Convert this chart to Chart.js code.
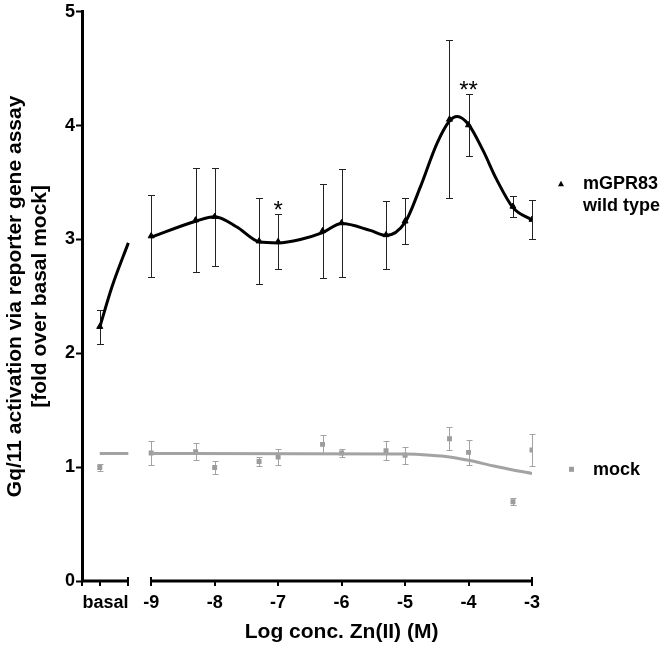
<!DOCTYPE html>
<html><head><meta charset="utf-8">
<script src="https://cdn.jsdelivr.net/npm/chart.js@4/dist/chart.umd.min.js"></script>
<style>html,body{margin:0;padding:0;background:#fff}canvas{display:block}</style>
</head><body>
<canvas id="c" width="668" height="646"></canvas>
<script>
// ---------- data ----------
const concLog   = [-9, -8.3, -8, -7.3, -7, -6.3, -6, -5.3, -5, -4.3, -4, -3.3, -3];
const wtMean    = [3.03, 3.17, 3.20, 2.985, 2.98, 3.075, 3.145, 3.04, 3.16, 4.055, 4.005, 3.29, 3.175];
const wtSem     = [0.36, 0.46, 0.43, 0.375, 0.24, 0.415, 0.475, 0.30, 0.20, 0.695, 0.275, 0.09, 0.175];
const mockMean  = [1.125, 1.135, 0.997, 1.05, 1.09, 1.20, 1.125, 1.145, 1.105, 1.25, 1.13, 0.696, 1.15];
const mockSem   = [0.105, 0.075, 0.058, 0.038, 0.07, 0.08, 0.035, 0.085, 0.075, 0.10, 0.11, 0.03, 0.14];
const basalPos  = -9.81;
const basalWtMean = 2.234, basalWtSem = 0.149;
const basalMockMean = 0.997, basalMockSem = 0.03;

const wtFitX  = [-9, -8.3, -8.0, -7.65, -7.3, -7.0, -6.65, -6.3, -6.0, -5.55, -5.3, -5.0, -4.76, -4.5, -4.3, -4.18, -4.0, -3.77, -3.56, -3.3, -3.0];
const wtFitY  = [3.02, 3.16, 3.20, 3.11, 2.98, 2.97, 3.00, 3.06, 3.14, 3.08, 3.035, 3.15, 3.46, 3.84, 4.04, 4.08, 4.01, 3.78, 3.53, 3.28, 3.17];
const wtBasalFitX = [-9.81, -9.62, -9.36];
const wtBasalFitY = [2.23, 2.58, 2.97];
const mockFitX = [-9, -5.0, -4.6, -4.3, -4.0, -3.6, -3.3, -3.0];
const mockFitY = [1.12, 1.115, 1.105, 1.09, 1.06, 1.01, 0.975, 0.945];
const mockBasalFitX = [-9.81, -9.36];
const mockBasalFitY = [1.12, 1.12];

const xTickValues = [-9.72, -9, -8, -7, -6, -5, -4, -3];
const xTickLabels = ['basal', '-9', '-8', '-7', '-6', '-5', '-4', '-3'];
const xMin = -10.09, xMax = -3;
const basalAxisEnd = -9.36;
const yMin = 0, yMax = 5, yStep = 1;
const sigLog   = [-7, -4];
const sigMarks = ['*', '**'];
const seriesNames = [['mGPR83', 'wild type'], ['mock']];
const yTitle = ['Gq/11 activation via reporter gene assay', '[fold over basal mock]'];
const xTitle = 'Log conc. Zn(II) (M)';

// ---------- style ----------
const FONT = "'Liberation Sans', Arial, sans-serif";
const BLACK = '#000000';
const GREY = '#a3a3a3';
const GREY_MARK = '#9c9c9c';

const pts = (xs, ys) => xs.map((v, i) => ({x: v, y: ys[i]}));

const groups = [
  {xs: [basalPos, ...concLog], m: [basalWtMean, ...wtMean], e: [basalWtSem, ...wtSem], color: '#222222', cap: 3.5},
  {xs: [basalPos, ...concLog], m: [basalMockMean, ...mockMean], e: [basalMockSem, ...mockSem], color: GREY, cap: 3}
];

const extras = {
  id: 'extras',
  beforeDatasetsDraw(chart) {
    const {ctx, scales: {x, y}} = chart;
    ctx.save();
    ctx.lineWidth = 1;
    groups.forEach(g => {
      ctx.strokeStyle = g.color;
      g.xs.forEach((xv, i) => {
        const px = Math.round(x.getPixelForValue(xv)) + 0.5;
        const top = Math.round(y.getPixelForValue(g.m[i] + g.e[i])) + 0.5;
        const bot = Math.round(y.getPixelForValue(g.m[i] - g.e[i])) + 0.5;
        ctx.beginPath();
        ctx.moveTo(px, top); ctx.lineTo(px, bot);
        ctx.moveTo(px - g.cap, top); ctx.lineTo(px + g.cap, top);
        ctx.moveTo(px - g.cap, bot); ctx.lineTo(px + g.cap, bot);
        ctx.stroke();
      });
    });
    ctx.restore();
  },
  afterDraw(chart) {
    const {ctx, chartArea: ca, scales: {x, y}} = chart;
    const b = ca.bottom;
    ctx.save();
    // broken x axis line
    ctx.strokeStyle = BLACK;
    ctx.lineWidth = 3;
    ctx.beginPath();
    ctx.moveTo(x.getPixelForValue(xMin), b); ctx.lineTo(x.getPixelForValue(basalAxisEnd), b);
    ctx.moveTo(x.getPixelForValue(-9), b); ctx.lineTo(x.getPixelForValue(xMax), b);
    ctx.stroke();
    // tick marks
    ctx.lineWidth = 2;
    const tick = (v, up, down) => {
      const px = Math.round(x.getPixelForValue(v));
      ctx.beginPath(); ctx.moveTo(px, b - up); ctx.lineTo(px, b + down); ctx.stroke();
    };
    tick(xMin, 0, 5);
    tick(basalPos, 0, 5);
    tick(basalAxisEnd, 4, 5);
    xTickValues.slice(1).forEach(v => tick(v, (v === -9 || v === xMax) ? 4 : 0, 5));
    // x title, centred on the concentration segment
    ctx.fillStyle = BLACK;
    ctx.font = `bold 21px ${FONT}`;
    ctx.textAlign = 'center';
    ctx.textBaseline = 'middle';
    const cx = (x.getPixelForValue(-9) + x.getPixelForValue(xMax)) / 2;
    ctx.fillText(xTitle, cx, chart.height - 14);
    // significance marks
    ctx.font = `24px ${FONT}`;
    ctx.textBaseline = 'alphabetic';
    sigLog.forEach((v, k) => {
      const i = concLog.indexOf(v);
      const topPx = y.getPixelForValue(wtMean[i] + wtSem[i]);
      ctx.fillText(sigMarks[k], x.getPixelForValue(v), topPx + 4);
    });
    // legend
    ctx.textAlign = 'left';
    ctx.textBaseline = 'middle';
    ctx.font = `bold 18px ${FONT}`;
    // wild type
    const tx = ca.right + 29, ty = ca.top + 172;
    ctx.fillStyle = BLACK;
    ctx.beginPath();
    ctx.moveTo(tx, ty - 3); ctx.lineTo(tx + 3, ty + 2.5); ctx.lineTo(tx - 3, ty + 2.5); ctx.closePath();
    ctx.fill();
    ctx.fillText(seriesNames[0][0], ca.right + 51, ca.top + 172);
    ctx.fillText(seriesNames[0][1], ca.right + 51, ca.top + 194);
    // mock
    ctx.fillStyle = GREY_MARK;
    ctx.fillRect(ca.right + 37, ca.top + 455, 5, 5);
    ctx.fillStyle = BLACK;
    ctx.fillText(seriesNames[1][0], ca.right + 61, ca.top + 458);
    ctx.restore();
  }
};

new Chart(document.getElementById('c'), {
  type: 'line',
  data: {
    datasets: [
      {data: pts(wtFitX, wtFitY), borderColor: BLACK, borderWidth: 3, pointRadius: 0, cubicInterpolationMode: 'monotone', fill: false},
      {data: pts(wtBasalFitX, wtBasalFitY), borderColor: BLACK, borderWidth: 3, pointRadius: 0, cubicInterpolationMode: 'monotone', fill: false},
      {data: pts(mockFitX, mockFitY), borderColor: GREY, borderWidth: 3, pointRadius: 0, cubicInterpolationMode: 'monotone', fill: false},
      {data: pts(mockBasalFitX, mockBasalFitY), borderColor: GREY, borderWidth: 3, pointRadius: 0, fill: false},
      {data: pts([basalPos, ...concLog], [basalWtMean, ...wtMean]), showLine: false, pointStyle: 'triangle', pointRadius: 3.5, backgroundColor: BLACK, borderColor: BLACK, borderWidth: 1},
      {data: pts([basalPos, ...concLog], [basalMockMean, ...mockMean]), showLine: false, pointStyle: 'rect', pointRadius: 3.5, backgroundColor: GREY_MARK, borderColor: GREY_MARK, borderWidth: 0}
    ]
  },
  options: {
    responsive: false,
    animation: false,
    devicePixelRatio: 1,
    layout: {padding: {left: 0, right: 136, top: 11, bottom: 0}},
    plugins: {legend: {display: false}, tooltip: {enabled: false}},
    scales: {
      x: {
        type: 'linear', min: xMin, max: xMax,
        grid: {display: false, drawTicks: false},
        border: {display: false},
        afterBuildTicks: s => { s.ticks = xTickValues.map(v => ({value: v})); },
        afterFit: s => { s.height = 65; },
        ticks: {
          autoSkip: false, maxRotation: 0, minRotation: 0, padding: 11,
          color: BLACK, font: {family: FONT, size: 18, weight: 'bold'},
          callback: (v, i) => xTickLabels[i]
        }
      },
      y: {
        type: 'linear', min: yMin, max: yMax,
        grid: {drawOnChartArea: false, drawTicks: true, tickLength: 6, tickWidth: 2, tickColor: BLACK, color: BLACK},
        border: {display: true, width: 3, color: BLACK},
        afterFit: s => { s.width = 82; },
        ticks: {stepSize: yStep, padding: 1, color: BLACK, font: {family: FONT, size: 18, weight: 'bold'}},
        title: {display: true, text: yTitle, color: BLACK, padding: {top: 2, bottom: 0}, font: {family: FONT, size: 21, weight: 'bold', lineHeight: 1.22}}
      }
    }
  },
  plugins: [extras]
});
</script>
</body></html>
